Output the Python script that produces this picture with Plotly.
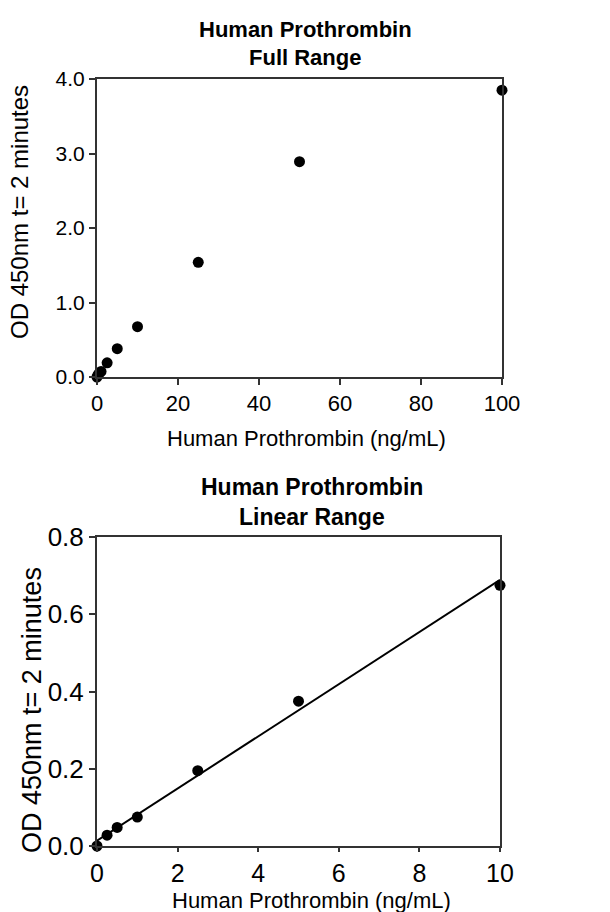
import numpy as np
import plotly.graph_objects as go

# Data
conc_full = [0, 0.25, 0.5, 1, 2.5, 5, 10, 25, 50, 100]
od_full = [0, 0.028, 0.048, 0.075, 0.19, 0.38, 0.675, 1.54, 2.89, 3.85]

conc_lin = [0, 0.25, 0.5, 1, 2.5, 5, 10]
od_lin = [0, 0.028, 0.048, 0.075, 0.195, 0.375, 0.675]

top_xticks = [0, 20, 40, 60, 80, 100]
top_yticks = [0.0, 1.0, 2.0, 3.0, 4.0]
bot_xticks = [0, 2, 4, 6, 8, 10]
bot_yticks = [0.0, 0.2, 0.4, 0.6, 0.8]

slope, intercept = np.polyfit(conc_lin, od_lin, 1)
fit_x = [0, 10]
fit_y = [intercept + slope * v for v in fit_x]

FONT = "Liberation Sans, Arial, sans-serif"
W, H = 610, 912

fig = go.Figure()
marker = dict(color="black", size=11)
fig.add_trace(go.Scatter(x=conc_full, y=od_full, mode="markers", marker=marker,
                         xaxis="x", yaxis="y", cliponaxis=False, showlegend=False))
fig.add_trace(go.Scatter(x=fit_x, y=fit_y, mode="lines", line=dict(color="black", width=2),
                         xaxis="x2", yaxis="y2", showlegend=False))
fig.add_trace(go.Scatter(x=conc_lin, y=od_lin, mode="markers", marker=marker,
                         xaxis="x2", yaxis="y2", cliponaxis=False, showlegend=False))

axcommon = dict(showline=True, linecolor="#333", linewidth=2, mirror=True,
                ticks="outside", tickcolor="#333", tickwidth=1.5,
                showgrid=False, zeroline=False, automargin=False)

fig.update_layout(
    width=W, height=H, margin=dict(l=0, r=0, t=0, b=0, autoexpand=False),
    paper_bgcolor="white", plot_bgcolor="white",
    font=dict(family=FONT, color="black"),
    xaxis=dict(domain=[97 / W, 502 / W], range=[0, 100], tickvals=top_xticks,
               tickfont=dict(size=22), anchor="y", ticklen=6, **axcommon),
    yaxis=dict(domain=[1 - 377 / H, 1 - 79 / H], range=[0, 4], tickvals=top_yticks,
               ticktext=[f"{v:.1f}" for v in top_yticks], tickfont=dict(size=21),
               anchor="x", ticklen=6, **axcommon),
    xaxis2=dict(domain=[97 / W, 500 / W], range=[0, 10], tickvals=bot_xticks,
                tickfont=dict(size=25), anchor="y2", ticklen=4, **axcommon),
    yaxis2=dict(domain=[1 - 846 / H, 1 - 537 / H], range=[0, 0.8], tickvals=bot_yticks,
                ticktext=[f"{v:.1f}" for v in bot_yticks], tickfont=dict(size=26),
                anchor="x2", ticklen=6, **axcommon),
)

def ann(text, x, y, size, bold=False, angle=0):
    fig.add_annotation(text=f"<b>{text}</b>" if bold else text,
                       x=x / W, y=1 - y / H, xref="paper", yref="paper",
                       showarrow=False, textangle=angle,
                       font=dict(size=size, family=FONT, color="black"),
                       xanchor="center", yanchor="middle")

ann("Human Prothrombin", 305, 29, 22, bold=True)
ann("Full Range", 305, 57, 22, bold=True)
ann("Human Prothrombin (ng/mL)", 306, 438, 22)
ann("OD 450nm t= 2 minutes", 20, 212, 24, angle=-90)

ann("Human Prothrombin", 312, 487, 23, bold=True)
ann("Linear Range", 312, 517, 23, bold=True)
ann("Human Prothrombin (ng/mL)", 311, 900, 22)
ann("OD 450nm t= 2 minutes", 32, 710, 27, angle=-90)

fig.write_html("out.html", config={"displayModeBar": False},
               post_script="document.body.style.margin='0';document.body.style.overflow='hidden';")
